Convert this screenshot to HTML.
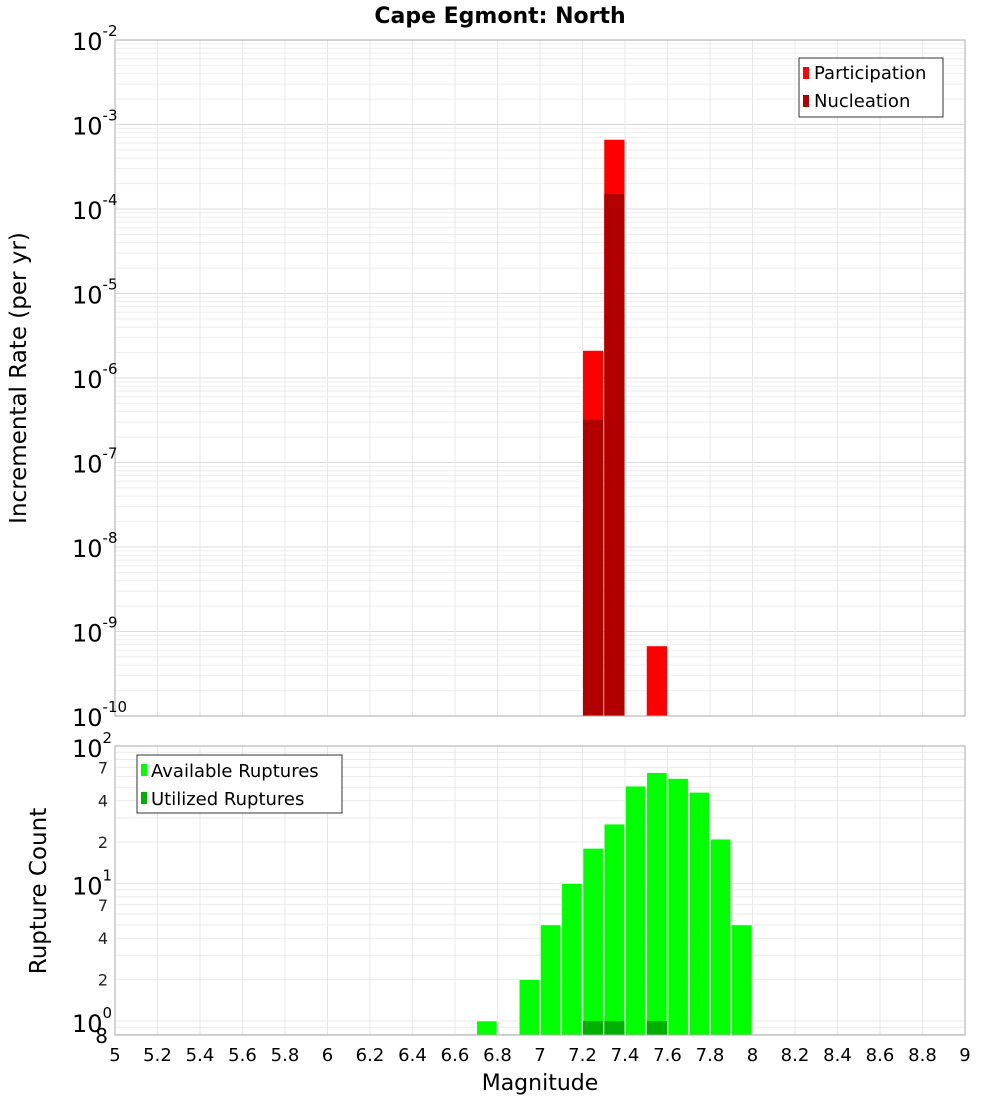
<!DOCTYPE html>
<html><head><meta charset="utf-8"><style>
body{margin:0;background:#fff;width:1000px;height:1100px;overflow:hidden}
svg{font-family:"DejaVu Sans","Liberation Sans",sans-serif}
</style></head><body>
<svg id="chart" width="1000" height="1100" xmlns="http://www.w3.org/2000/svg">
<text x="500" y="23" text-anchor="middle" font-size="22" font-weight="bold">Cape Egmont: North</text>
<g id="topg"></g><g id="botg"></g>
<text transform="translate(26,378) rotate(-90)" text-anchor="middle" font-size="23">Incremental Rate (per yr)</text>
<text transform="translate(46,891) rotate(-90)" text-anchor="middle" font-size="23">Rupture Count</text>
<text x="540" y="1090" text-anchor="middle" font-size="22">Magnitude</text>
</svg>
<script>
const binCenters=[7.25,7.35,7.55];
const participation=[2.1e-6,6.6e-4,6.7e-10];
const nucleation=[3.2e-7,1.5e-4,0];
const countBins=[6.75,6.95,7.05,7.15,7.25,7.35,7.45,7.55,7.65,7.75,7.85,7.95];
const available=[1,2,5,10,18,27,51,64,58,46,21,5];
const utilizedBins=[7.25,7.35,7.55];
const utilized=[1,1,1];
const xTicks=[5,5.2,5.4,5.6,5.8,6,6.2,6.4,6.6,6.8,7,7.2,7.4,7.6,7.8,8,8.2,8.4,8.6,8.8,9];
const topExps=[-2,-3,-4,-5,-6,-7,-8,-9,-10];

const NS="http://www.w3.org/2000/svg";
const X0=115,X1=965;
const x=m=>X0+(m-5)/4*(X1-X0);
const T0=40,T1=716, yt=v=>T0+(-2-Math.log10(v))/8*(T1-T0);
const B0=746,B1=1035, B2=1021, dec=137.5, yb=v=>B2-Math.log10(v)*dec;
function el(p,tag,a,txt){const e=document.createElementNS(NS,tag);for(const k in a)e.setAttribute(k,a[k]);if(txt!=null)e.textContent=txt;p.appendChild(e);return e;}
const topG=document.getElementById('topg'),botG=document.getElementById('botg');
el(topG,'rect',{x:X0,y:T0,width:X1-X0,height:T1-T0,fill:'#fff'});
for(let e=-10;e<-2;e++)for(let k=1;k<10;k++){const v=k*Math.pow(10,e);const y=yt(v);
 const g=el(topG,'line',{x1:X0,x2:X1,y1:y,y2:y,stroke:k==1?'#ddd':'#eee','stroke-width':1});
 
 }
xTicks.forEach(t=>{const g=el(topG,'line',{x1:x(t),x2:x(t),y1:T0,y2:T1,stroke:'#e8e8e8'});
 
 });
const bw=x(5.1)-x(5);
binCenters.forEach((c,i)=>{
 const r=el(topG,'rect',{x:x(c)-bw/2+0.5,y:yt(participation[i]),width:bw-1,height:T1-yt(participation[i]),fill:'#ff0000'});
 
 
 if(nucleation[i]>0){const n=el(topG,'rect',{x:x(c)-bw/2+0.5,y:yt(nucleation[i]),width:bw-1,height:T1-yt(nucleation[i]),fill:'#b20000'});
 
 }
});
el(topG,'rect',{x:X0,y:T0,width:X1-X0,height:T1-T0,fill:'none',stroke:'#aaa'});
topExps.forEach(e=>{const y=yt(Math.pow(10,e));const t=el(topG,'text',{x:72,y:y+10,'font-size':24});
 
 
 t.appendChild(document.createTextNode('10'));el(t,'tspan',{dy:-14,'font-size':15},String(e));});
const lg=el(topG,'g',{});


el(lg,'rect',{x:799,y:58,width:144,height:59,fill:'#fff',stroke:'#333'});
el(lg,'rect',{x:803,y:67,width:6,height:12,fill:'#ff0000'});
el(lg,'text',{x:814,y:79,'font-size':18},'Participation');
el(lg,'rect',{x:803,y:95,width:6,height:12,fill:'#b20000'});
el(lg,'text',{x:814,y:107,'font-size':18},'Nucleation');
el(botG,'rect',{x:X0,y:B0,width:X1-X0,height:B1-B0,fill:'#fff'});
[0.8,0.9,1,2,3,4,5,6,7,8,9,10,20,30,40,50,60,70,80,90].forEach(v=>{const y=yb(v);if(y<B0||y>B1)return;
 const g=el(botG,'line',{x1:X0,x2:X1,y1:y,y2:y,stroke:'#eaeaea'});
 
 });
xTicks.forEach(t=>{const g=el(botG,'line',{x1:x(t),x2:x(t),y1:B0,y2:B1,stroke:'#e8e8e8'});
 
 });
countBins.forEach((c,i)=>{const r=el(botG,'rect',{x:x(c)-bw/2+0.5,y:yb(available[i]),width:bw-1,height:B1-yb(available[i]),fill:'#00ff00',stroke:'#e8ffe8','stroke-width':0.6});
 
 });
utilizedBins.forEach((c,i)=>{const r=el(botG,'rect',{x:x(c)-bw/2+0.5,y:yb(utilized[i]),width:bw-1,height:B1-yb(utilized[i]),fill:'#00b000'});
 
 });
el(botG,'rect',{x:X0,y:B0,width:X1-X0,height:B1-B0,fill:'none',stroke:'#aaa'});
[[100,'2'],[10,'1'],[1,'0']].forEach(([v,e])=>{const y=yb(v);const t=el(botG,'text',{x:72,y:y+11,'font-size':24});
 
 
 t.appendChild(document.createTextNode('10'));el(t,'tspan',{dy:-14,'font-size':15},e);});
[70,40,20,7,4,2].forEach(v=>{const t=el(botG,'text',{x:108,y:yb(v)+6,'font-size':16,'text-anchor':'end',fill:'#222'},String(v<10?v:v/10));
 
 });
const t8=el(botG,'text',{x:108,y:1043,'font-size':20,'text-anchor':'end'},'8');


xTicks.forEach(t=>{const e=el(botG,'text',{x:x(t),y:1061,'font-size':18,'text-anchor':'middle'},String(t));
 
 });
const lb=el(botG,'g',{});


el(lb,'rect',{x:137,y:755,width:205,height:58,fill:'#fff',stroke:'#333'});
el(lb,'rect',{x:141,y:764,width:6,height:12,fill:'#00ff00'});
el(lb,'text',{x:151,y:777,'font-size':18},'Available Ruptures');
el(lb,'rect',{x:141,y:792,width:6,height:12,fill:'#00b000'});
el(lb,'text',{x:151,y:805,'font-size':18},'Utilized Ruptures');
</script>
</body></html>
